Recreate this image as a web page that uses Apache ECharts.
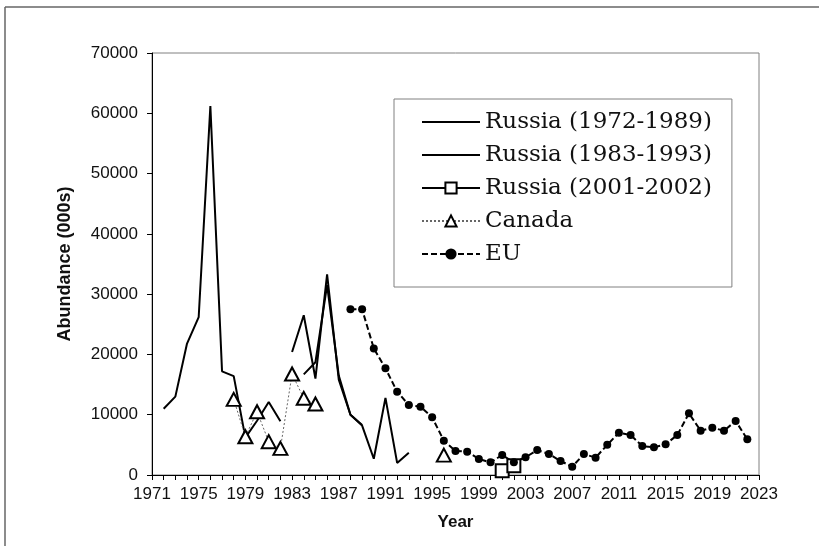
<!DOCTYPE html>
<html><head><meta charset="utf-8">
<script src="https://cdn.jsdelivr.net/npm/echarts@6/dist/echarts.min.js"></script>
<style>html,body{margin:0;padding:0;background:#fff}#c{width:819px;height:546px}</style>
</head><body><div id="c"></div>
<script>
const years = ['1971','1972','1973','1974','1975','1976','1977','1978','1979','1980','1981','1982','1983','1984','1985','1986','1987','1988','1989','1990','1991','1992','1993','1994','1995','1996','1997','1998','1999','2000','2001','2002','2003','2004','2005','2006','2007','2008','2009','2010','2011','2012','2013','2014','2015','2016','2017','2018','2019','2020','2021','2022','2023'];
const yTicks = [0, 10000, 20000, 30000, 40000, 50000, 60000, 70000];

const russia1972 = [[1972,11000],[1973,13000],[1974,21800],[1975,26200],[1976,61200],[1977,17200],[1978,16400],[1979,6200],[1980,9000],[1981,12100],[1982,8900],[1983,null],[1984,16700],[1985,18700],[1986,31500],[1987,16500],[1988,10000],[1989,8300]];
const russia1983 = [[1983,20400],[1984,26500],[1985,16000],[1986,33300],[1987,15800],[1988,10000],[1989,8200],[1990,2700],[1991,12800],[1992,2000],[1993,3700]];
const russia2001 = [[2001,700],[2002,1550]];
const canada = [[1978,12550],[1979,6350],[1980,10500],[1981,5530],[1982,4420],[1983,16750],[1984,12720],[1985,11780],[1996,3300]];
const eu = [[1988,27480],[1989,27480],[1990,21000],[1991,17700],[1992,13820],[1993,11610],[1994,11330],[1995,9570],[1996,5690],[1997,3980],[1998,3870],[1999,2650],[2000,2100],[2001,3320],[2002,2100],[2003,2930],[2004,4150],[2005,3480],[2006,2320],[2007,1380],[2008,3480],[2009,2880],[2010,5000],[2011,7020],[2012,6630],[2013,4800],[2014,4590],[2015,5090],[2016,6630],[2017,10230],[2018,7350],[2019,7850],[2020,7350],[2021,8960],[2022,5920]];

function align(pairs) {
  const m = new Map(pairs.map(p => [String(p[0]), p[1]]));
  return years.map(y => (m.has(y) ? m.get(y) : null));
}

const chart = echarts.init(document.getElementById('c'), null, {renderer: 'canvas'});
const axisFont = {fontFamily: 'Liberation Sans, Arial, sans-serif', fontSize: 17, color: '#111'};
chart.setOption({
  animation: false,
  backgroundColor: '#fff',
  graphic: [
    {type: 'line', silent: true, shape: {x1: 5, y1: 7, x2: 819, y2: 7}, style: {stroke: '#666', lineWidth: 1.5}},
    {type: 'line', silent: true, shape: {x1: 5, y1: 7, x2: 5, y2: 546}, style: {stroke: '#666', lineWidth: 1.5}}
  ],
  grid: {left: 152, right: 60, top: 53, bottom: 71, show: true, borderColor: '#808080', borderWidth: 1, containLabel: false},
  legend: {
    orient: 'vertical', left: 394, top: 99,
    padding: [10, 20, 20, 27],
    itemWidth: 58, itemHeight: 14, itemGap: 7,
    borderColor: '#808080', borderWidth: 1, backgroundColor: '#fff',
    textStyle: {fontFamily: 'DejaVu Serif', fontSize: 23, lineHeight: 26, color: '#111'},
    data: [
      {name: 'Russia (1972-1989)', itemStyle: {opacity: 0}},
      {name: 'Russia (1983-1993)', itemStyle: {opacity: 0}},
      {name: 'Russia (2001-2002)'},
      {name: 'Canada'},
      {name: 'EU'}
    ]
  },
  xAxis: {
    type: 'category', data: years, boundaryGap: false,
    name: 'Year', nameLocation: 'middle', nameGap: 39,
    nameTextStyle: {fontFamily: 'Liberation Sans, Arial, sans-serif', fontSize: 17, fontWeight: 'bold', color: '#111'},
    axisLine: {lineStyle: {color: '#000', width: 1}},
    axisTick: {show: true, interval: 0, length: 5, lineStyle: {color: '#000'}},
    axisLabel: Object.assign({interval: 3, margin: 11}, axisFont),
    splitLine: {show: false}
  },
  yAxis: {
    type: 'value', min: 0, max: 70000, interval: 10000,
    name: 'Abundance (000s)', nameLocation: 'middle', nameGap: 78, nameRotate: 90,
    nameTextStyle: {fontFamily: 'Liberation Sans, Arial, sans-serif', fontSize: 18, fontWeight: 'bold', color: '#111'},
    axisLine: {show: true, lineStyle: {color: '#000', width: 1}},
    axisTick: {show: true, length: 5, lineStyle: {color: '#000'}},
    axisLabel: Object.assign({margin: 14, formatter: v => (yTicks.includes(v) ? String(v) : '')}, axisFont),
    splitLine: {show: false}
  },
  series: [
    {name: 'Russia (1972-1989)', type: 'line', data: align(russia1972), symbol: 'none', connectNulls: false,
     itemStyle: {color: '#000'}, lineStyle: {color: '#000', width: 2}},
    {name: 'Russia (1983-1993)', type: 'line', data: align(russia1983), symbol: 'none', connectNulls: false,
     itemStyle: {color: '#000'}, lineStyle: {color: '#000', width: 2}},
    {name: 'Russia (2001-2002)', type: 'line', data: align(russia2001), symbol: 'rect', symbolSize: 13, showAllSymbol: true,
     itemStyle: {color: '#fff', borderColor: '#000', borderWidth: 2}, lineStyle: {color: '#000', width: 2}},
    {name: 'Canada', type: 'line', data: align(canada), symbol: 'triangle', symbolSize: [14, 13], showAllSymbol: true,
     itemStyle: {color: '#fff', borderColor: '#000', borderWidth: 2}, lineStyle: {color: '#666', width: 1, type: [2, 2]}},
    {name: 'EU', type: 'line', data: align(eu), symbol: 'circle', symbolSize: 8, showAllSymbol: true,
     itemStyle: {color: '#000'}, lineStyle: {color: '#000', width: 2, type: [6, 3]}}
  ]
});
</script></body></html>
